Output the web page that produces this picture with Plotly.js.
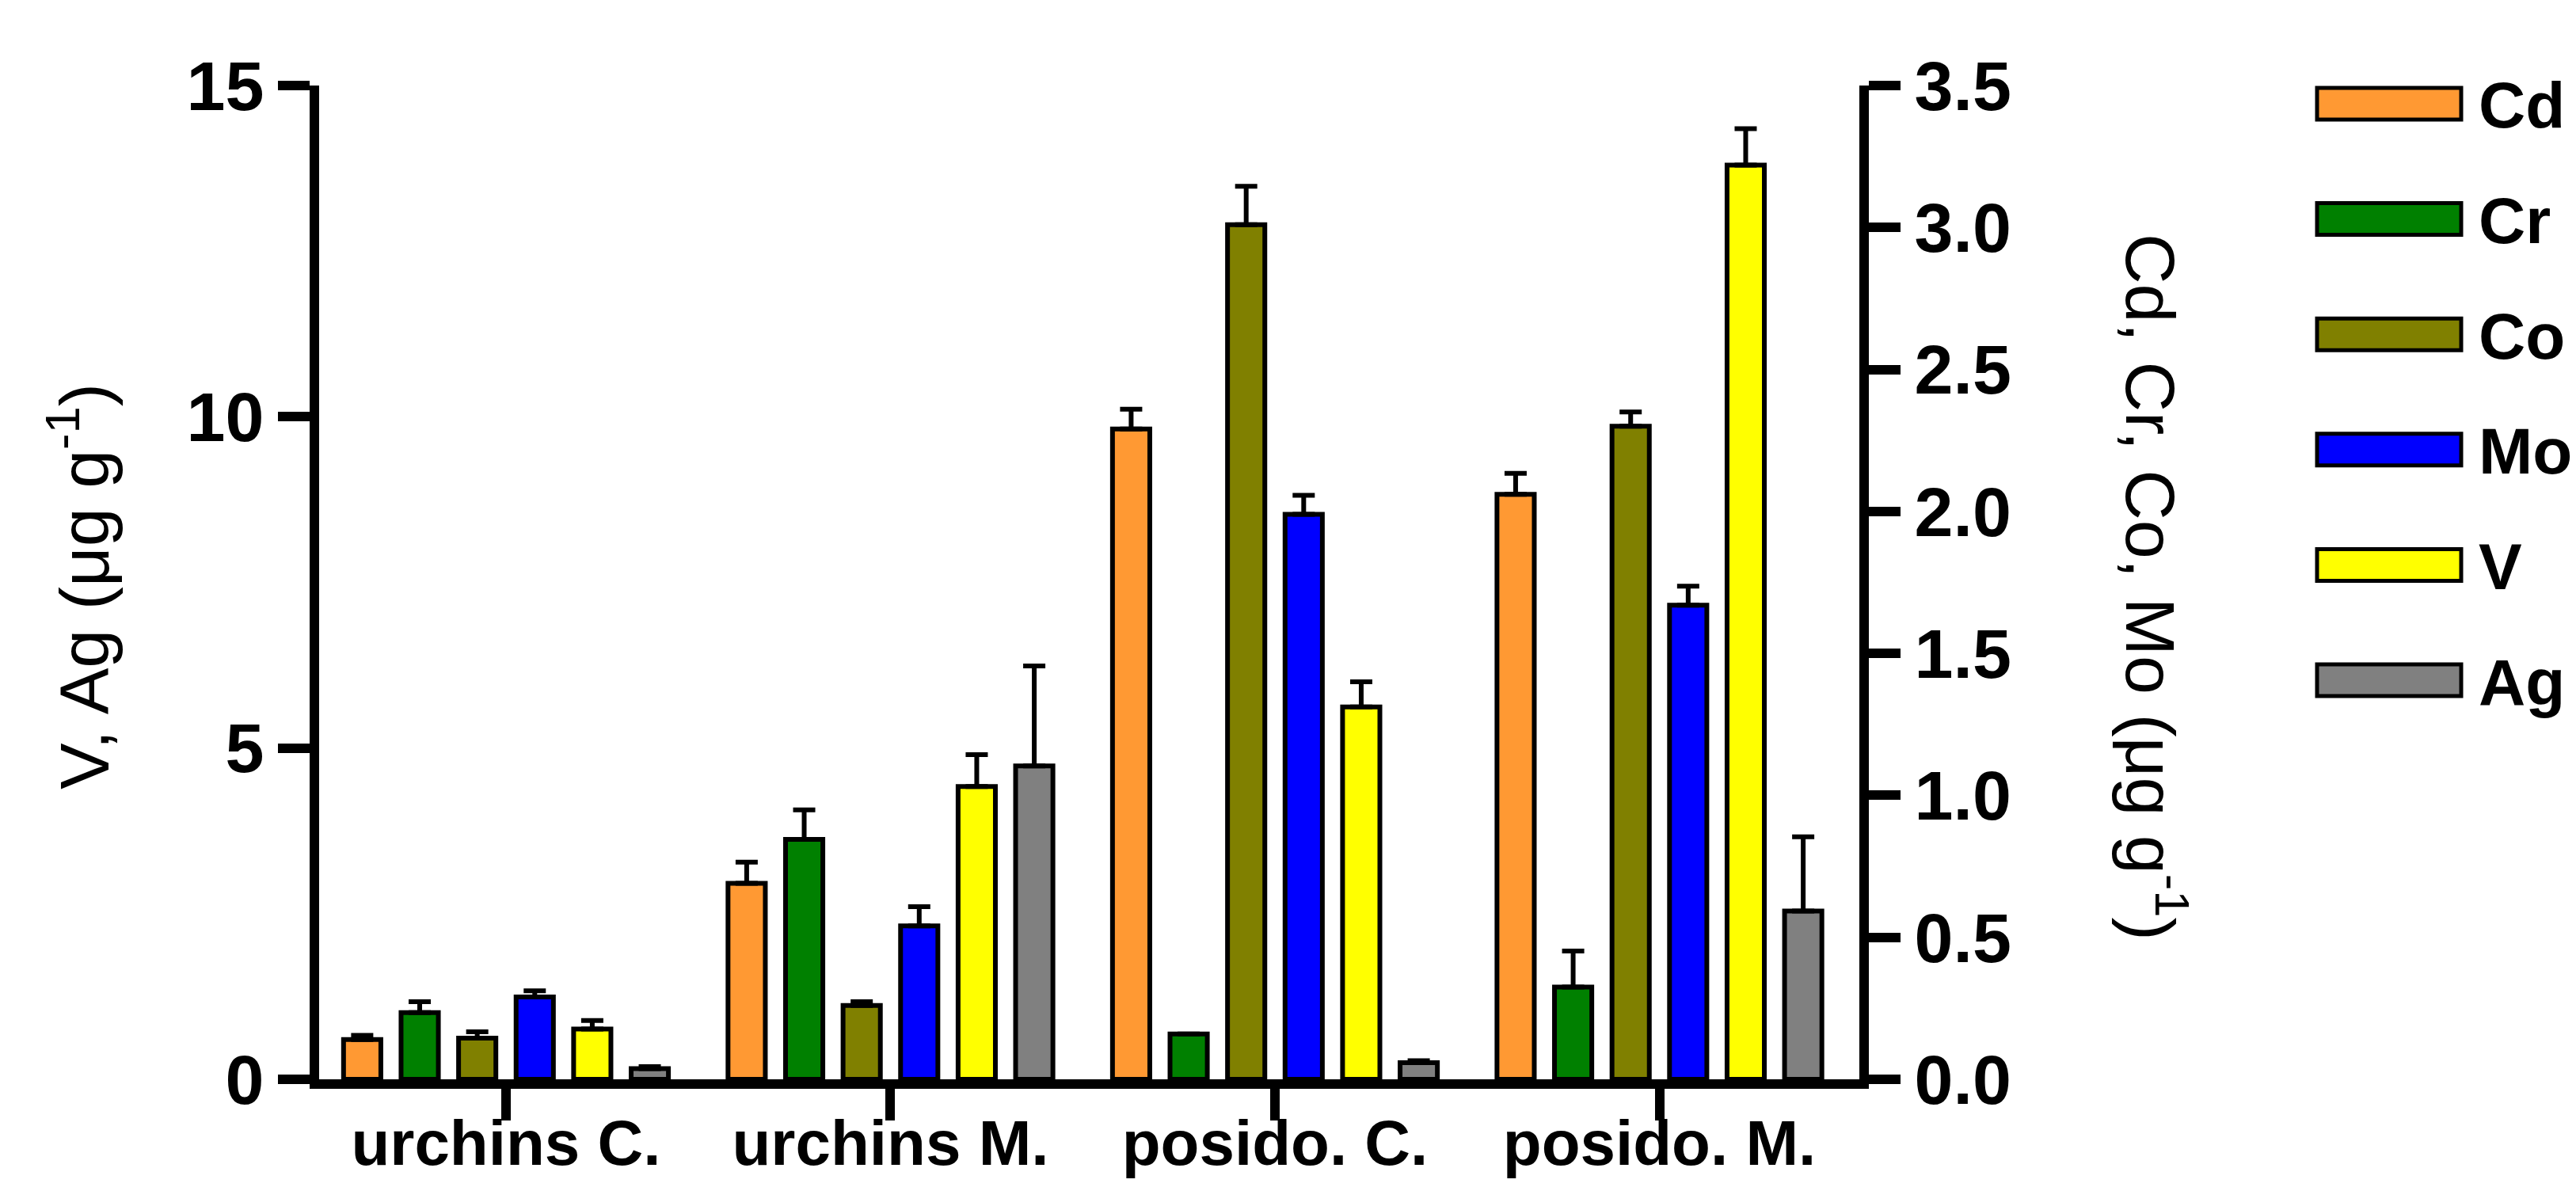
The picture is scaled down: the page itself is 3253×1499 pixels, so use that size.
<!DOCTYPE html>
<html>
<head>
<meta charset="utf-8">
<script src="https://cdn.plot.ly/plotly-3.0.1.min.js"></script>
<style>html,body{margin:0;padding:0;background:#fff;}#chart{width:3253px;height:1499px;}</style>
</head>
<body>
<div id="chart"></div>
<script>
// ---- data ----
const categories = ["urchins C.", "urchins M.", "posido. C.", "posido. M."];
const seriesNames = ["Cd", "Cr", "Co", "Mo", "V", "Ag"];
const seriesAxis  = ["y2", "y2", "y2", "y2", "y", "y"];   // right axis: Cd, Cr, Co, Mo ; left axis: V, Ag
const Cd    = [0.14, 0.69, 2.29, 2.06];
const CdErr = [0.015, 0.075, 0.07, 0.074];
const Cr    = [0.235, 0.845, 0.16, 0.325];
const CrErr = [0.038, 0.104, 0.0, 0.127];
const Co    = [0.145, 0.26, 3.01, 2.30];
const CoErr = [0.022, 0.013, 0.135, 0.05];
const Mo    = [0.29, 0.54, 1.99, 1.67];
const MoErr = [0.022, 0.068, 0.067, 0.067];
const V     = [0.76, 4.42, 5.62, 13.8];
const VErr  = [0.127, 0.48, 0.38, 0.55];
const Ag    = [0.16, 4.73, 0.25, 2.54];
const AgErr = [0.03, 1.51, 0.03, 1.12];
const leftTicks  = [0, 5, 10, 15];
const rightTicks = [0, 0.5, 1.0, 1.5, 2.0, 2.5, 3.0, 3.5];

const values = [Cd, Cr, Co, Mo, V, Ag];
const errors = [CdErr, CrErr, CoErr, MoErr, VErr, AgErr];

// ---- styles ----
const colors = ["#FF9933", "#008000", "#808000", "#0000FF", "#FFFF00", "#808080"];
const FONT = "Liberation Sans, Arial, Helvetica, sans-serif";

// plot frame in pixels
const L = 403, R = 2348, T = 108, B = 1363, FW = 3253, FH = 1499;
const PW = R - L, PH = B - T;
const px2x = p => (p - L) / PW;
const py2y = p => (B - p) / PH;

const pitch = 0.1496, barW = 0.097;

const traces = seriesNames.map((name, i) => ({
  type: "bar",
  name: name,
  x: categories,
  y: values[i],
  yaxis: seriesAxis[i],
  width: barW,
  offset: (i - 2.5) * pitch - barW / 2,
  marker: { color: colors[i], line: { color: "#000", width: 6 } },
  error_y: {
    type: "data", symmetric: false,
    array: errors[i], arrayminus: errors[i].map(() => 0),
    color: "#000", thickness: 6, width: 14
  },
  showlegend: false,
  hoverinfo: "x+y+name"
}));

// custom legend (wide swatches)
const shapes = [];
const annotations = [];
seriesNames.forEach((name, i) => {
  const cy = 131 + i * 145.6;
  shapes.push({
    type: "rect", xref: "paper", yref: "paper",
    x0: px2x(2926), x1: px2x(3108), y0: py2y(cy + 20), y1: py2y(cy - 20),
    fillcolor: colors[i], line: { color: "#000", width: 5 }
  });
  annotations.push({
    xref: "paper", yref: "paper", x: px2x(3128), y: py2y(cy + 2),
    xanchor: "left", yanchor: "middle", showarrow: false,
    text: name, font: { family: FONT, size: 82, color: "#000", weight: "bold" }
  });
});

annotations.push({
  xref: "paper", yref: "paper", x: px2x(100), y: py2y(741),
  xanchor: "center", yanchor: "middle", showarrow: false, textangle: -90,
  text: "V, Ag (μg g<sup>-1</sup>)", font: { family: FONT, size: 88, color: "#000" }
});
annotations.push({
  xref: "paper", yref: "paper", x: px2x(2722), y: py2y(741),
  xanchor: "center", yanchor: "middle", showarrow: false, textangle: 90,
  text: "Cd, Cr, Co, Mo (μg g<sup>-1</sup>)", font: { family: FONT, size: 88, color: "#000" }
});

const axisCommon = {
  showgrid: false, zeroline: false, showline: true,
  linecolor: "#000", linewidth: 12,
  ticks: "outside", ticklen: 40, tickwidth: 12, tickcolor: "#000",
  tickfont: { family: FONT, size: 88, color: "#000", weight: "bold" }
};

const layout = {
  width: FW, height: FH, autosize: false,
  paper_bgcolor: "#fff", plot_bgcolor: "#fff",
  margin: { l: L, r: FW - R, t: T, b: FH - B, pad: 0 },
  font: { family: FONT, color: "#000" },
  barmode: "overlay",
  showlegend: false,
  xaxis: Object.assign({}, axisCommon, {
    type: "category", range: [-0.486, 3.52],
    ticklen: 40, ticklabelstandoff: -40,
    tickfont: { family: FONT, size: 80, color: "#000", weight: "bold" }
  }),
  yaxis: Object.assign({}, axisCommon, {
    range: [0, 15], tickvals: leftTicks, side: "left"
  }),
  yaxis2: Object.assign({}, axisCommon, {
    range: [0, 3.5], tickvals: rightTicks, tickformat: ".1f",
    overlaying: "y", side: "right"
  }),
  shapes: shapes,
  annotations: annotations
};

Plotly.newPlot("chart", traces, layout, { staticPlot: true, displayModeBar: false });
</script>
</body>
</html>
